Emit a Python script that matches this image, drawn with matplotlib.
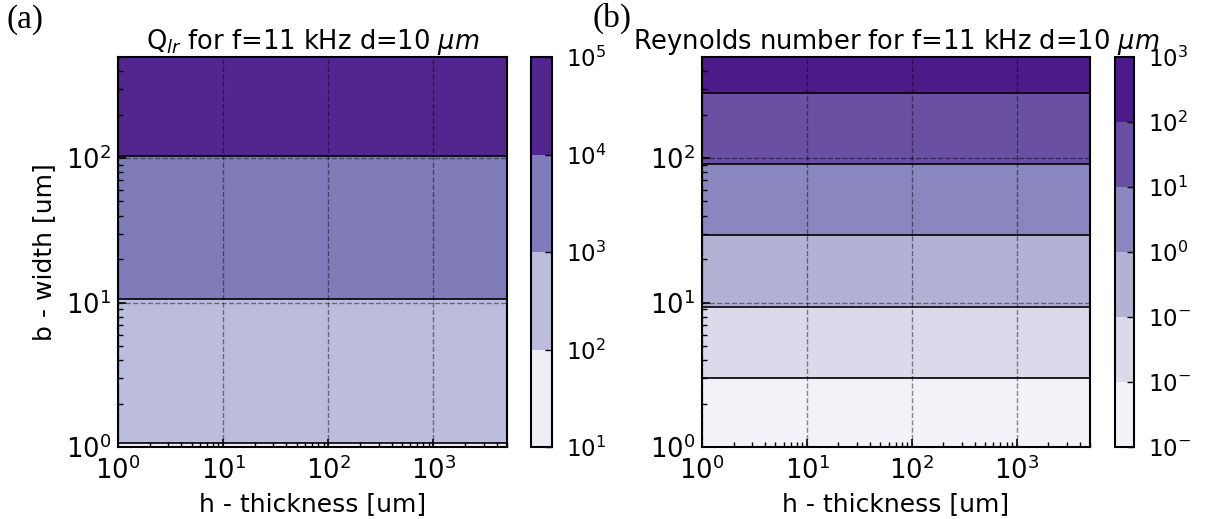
"""
Q_lr and Reynolds number maps vs. cantilever width / thickness
"""

import matplotlib.pyplot as plt
import numpy as np
from matplotlib import colors, ticker

plt.rcParams['font.family'] = 'DejaVu Sans'
plt.rcParams['mathtext.fontset'] = 'dejavusans'
plt.rcParams['font.size'] = 14

# thickness axis (h) - values are independent of h
h_um = [1, 10, 100, 1000, 5000]

# (a) Q_lr read along width b
b_q = [1, 1.065, 10.5, 103, 500]
q_lr = [94, 100, 1000, 10000, 48500]
q_levels = [1e1, 1e2, 1e3, 1e4, 1e5]

# (b) Reynolds number read along width b
b_re = [1, 3.0, 9.25, 29.2, 91, 283, 500]
reynolds = [0.0011, 0.01, 0.1, 1, 10, 100, 310]
re_levels = [1e-3, 1e-2, 1e-1, 1e0, 1e1, 1e2, 1e3]
re_ticklabels = ['$10^{-}$', '$10^{-}$', '$10^{-}$', '$10^{0}$',
                 '$10^{1}$', '$10^{2}$', '$10^{3}$']

W, H = 1207, 519
fig = plt.figure(figsize=(W / 100, H / 100), dpi=100)


def px(x0, y0, x1, y1):
    return [x0 / W, 1 - y1 / H, (x1 - x0) / W, (y1 - y0) / H]


ax1 = fig.add_axes(px(118, 57, 507, 447))
cax1 = fig.add_axes(px(531, 57, 552, 447))
ax2 = fig.add_axes(px(702, 57, 1090, 447))
cax2 = fig.add_axes(px(1115, 57, 1134, 447))


def panel(ax, cax, b, vals, levels, title):
    X, Y = np.meshgrid(h_um, b)
    Z = np.tile(np.array(vals, dtype=float)[:, None], (1, len(h_um)))
    norm = colors.LogNorm(vmin=levels[0], vmax=levels[-1])
    cf = ax.contourf(X, Y, Z, levels=levels, cmap='Purples', norm=norm)
    ax.contour(X, Y, Z, levels=levels, colors='k', linewidths=1.2)
    ax.set_xscale('log')
    ax.set_yscale('log')
    ax.set_xlim(1, 5000)
    ax.set_ylim(1, 500)
    ax.grid(True, which='major', linestyle='--', color='k', alpha=0.45, linewidth=1)
    ax.tick_params(which='both', direction='in', top=False, right=False)
    ax.tick_params(which='major', length=6, width=1.2, labelsize=18.5, pad=5)
    ax.tick_params(axis='x', which='major', pad=7)
    ax.tick_params(which='minor', length=3.5, width=1)
    for s in ax.spines.values():
        s.set_linewidth(1.5)
    ax.set_title(title, fontsize=18.5, pad=5)
    ax.set_xlabel('h - thickness [um]', fontsize=18, labelpad=5)
    cb = fig.colorbar(cf, cax=cax)
    cb.ax.tick_params(direction='in', length=5, width=1, labelsize=16.5, pad=10)
    cb.outline.set_linewidth(1.5)
    return cb


panel(ax1, cax1, b_q, q_lr, q_levels, 'Q$_{lr}$ for f=11 kHz d=10 $\\mu m$')
ax1.set_ylabel('b - width [um]', fontsize=18, labelpad=7)
cb2 = panel(ax2, cax2, b_re, reynolds, re_levels,
            'Reynolds number for f=11 kHz d=10 $\\mu m$')
cb2.set_ticks(re_levels)
cb2.set_ticklabels(re_ticklabels)

fig.text(7 / W, 1 - 20 / H, '(a)', family='Liberation Serif', fontsize=24, va='center')
fig.text(593 / W, 1 - 18 / H, '(b)', family='Liberation Serif', fontsize=24, va='center')

plt.savefig('out.png', dpi=100, facecolor='white')
